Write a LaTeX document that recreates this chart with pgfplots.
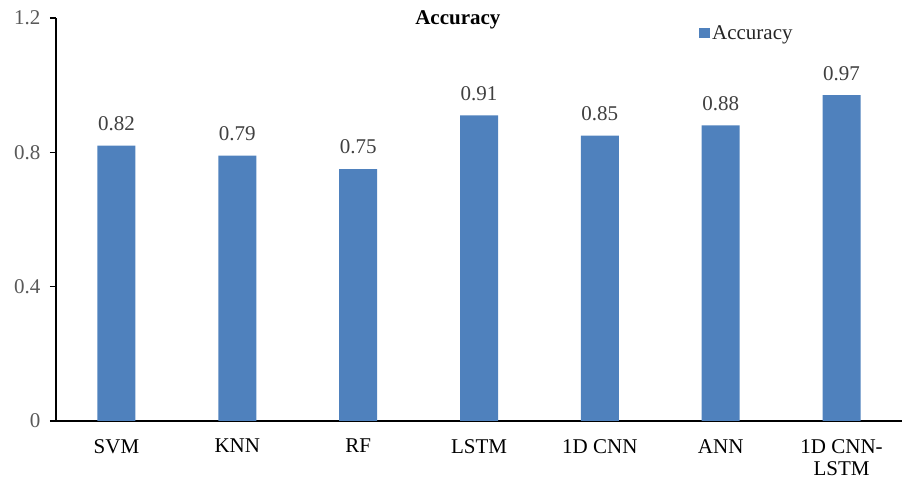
\documentclass[border=0pt]{standalone}
\usepackage{pgfplots}
\pgfplotsset{compat=1.18}
\usepackage{fontspec}
\setmainfont{Liberation Serif}
\definecolor{barblue}{HTML}{4F81BD}
\definecolor{tickgray}{HTML}{595959}
\definecolor{labelgray}{HTML}{404040}
\begin{document}
\begin{tikzpicture}[x=1bp,y=1bp]
\useasboundingbox (0,0) rectangle (902,485);
\begin{axis}[
  at={(56bp,64bp)}, anchor=south west,
  scale only axis,
  width=846bp, height=403bp,
  clip=false,
  xmin=-0.5, xmax=6.5,
  ymin=0, ymax=1.2,
  ytick={0,0.4,0.8,1.2},
  xtick={0,...,6},
  xticklabels={SVM,KNN,RF,LSTM,1D CNN,ANN,{1D CNN-\\LSTM}},
  axis x line*=bottom,
  axis y line*=left,
  axis line style={line width=2.2bp, -},
  x axis line style={shorten >=-2bp},
  major tick length=6bp,
  ytick style={line width=1.6bp, black},
  xtick style={draw=none},
  tick align=outside,
  /pgf/number format/assume math mode=true,
  font=\fontsize{21bp}{22bp}\selectfont,
  yticklabel style={text=tickgray, xshift=-6bp},
  xticklabel style={text=black, align=center, anchor=north, inner sep=0pt, yshift=-12bp},
  ybar, bar width=38bp,
  bar shift=0pt,
  nodes near coords,
  every node near coord/.append style={text=labelgray, anchor=center, yshift=22bp,
    /pgf/number format/.cd, fixed, fixed zerofill, precision=2},
  legend style={at={(0.7600,0.9628)}, anchor=west, draw=none, fill=none,
    inner sep=0pt, text=black!85, /tikz/every even column/.append style={column sep=3bp}},
  legend image code/.code={\fill[#1] (0bp,-5bp) rectangle (11bp,5bp);},
]
\addplot[fill=barblue, draw=none] coordinates {
  (0,0.82) (1,0.79) (2,0.75) (3,0.91) (4,0.85) (5,0.88) (6,0.97)
};
\addlegendentry{Accuracy}
% chart title, centred just below the top edge of the plot area
\node[anchor=center, inner sep=0pt, yshift=-2bp, font=\fontsize{21bp}{22bp}\selectfont\bfseries]
  at (rel axis cs:0.475,1) {Accuracy};
\end{axis}
\end{tikzpicture}
\end{document}
